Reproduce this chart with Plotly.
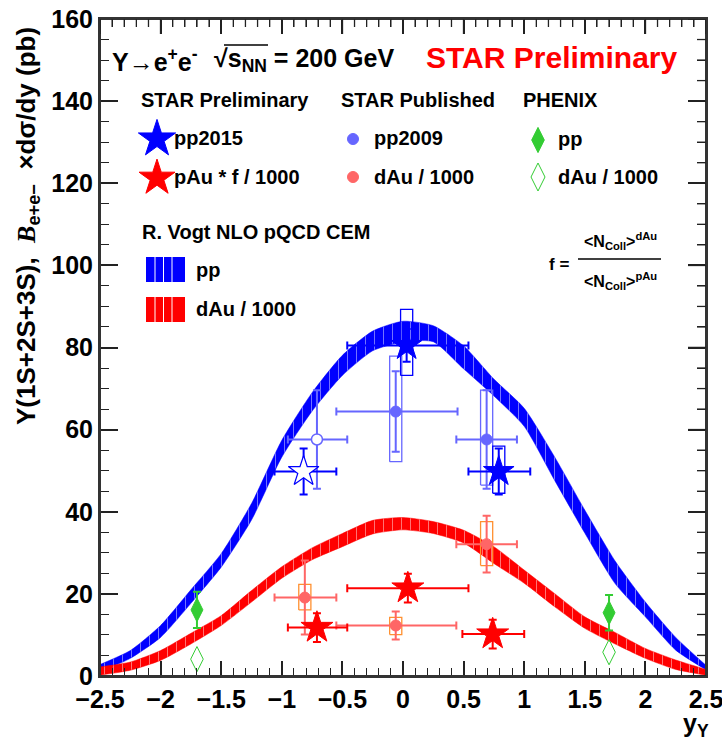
import plotly.graph_objects as go

# ---------------- data ----------------
band_x = [-2.5, -2.25, -2.0, -1.75, -1.5, -1.25, -1.0, -0.75, -0.5, -0.25, 0.0,
          0.25, 0.5, 0.75, 1.0, 1.25, 1.5, 1.75, 2.0, 2.25, 2.5]
pp_band_lo = [1.0, 4.3, 9.4, 17.7, 26.5, 38.0, 53.3, 64.5, 73.2, 79.2, 81.4,
              81.4, 74.8, 68.2, 60.8, 47.7, 34.8, 22.5, 14.4, 6.3, 1.5]
pp_band_hi = [2.8, 6.2, 12.3, 21.0, 29.8, 42.0, 57.4, 69.0, 78.1, 84.0, 86.4,
              85.3, 80.4, 72.3, 65.2, 53.4, 40.4, 28.0, 18.0, 9.4, 2.6]
dau_band_lo = [0.2, 1.4, 3.8, 7.8, 12.3, 18.0, 23.8, 28.3, 31.5, 34.6, 35.6,
               34.7, 32.4, 27.4, 22.6, 16.9, 11.6, 7.8, 4.3, 1.6, 0.2]
dau_band_hi = [2.2, 3.4, 6.2, 10.4, 14.7, 20.8, 26.6, 31.2, 34.7, 37.9, 38.6,
               37.6, 35.5, 31.5, 25.8, 20.1, 14.4, 10.6, 6.7, 3.9, 1.6]

# STAR Preliminary pp2015 (filled stars) and reflected point (open star)
pp15_x = [0.03, 0.79]
pp15_y = [80.5, 49.8]
pp15_xlo = [-0.46, 0.54]
pp15_xhi = [0.54, 1.05]
pp15_stat = [4.0, 5.6]
pp15_sys_lo = [73.2, 44.5]
pp15_sys_hi = [89.3, 56.0]
pp15r_x = [-0.82]
pp15r_y = [49.8]
pp15r_xlo = [-1.06]
pp15r_xhi = [-0.55]
pp15r_stat = [5.6]

# STAR Published pp2009
pp09_x = [-0.06, 0.69]
pp09_y = [64.4, 57.6]
pp09_xlo = [-0.55, 0.44]
pp09_xhi = [0.45, 0.94]
pp09_stat = [9.8, 12.0]
pp09_sys_lo = [52.2, 46.5]
pp09_sys_hi = [77.9, 69.6]
pp09r_x = [-0.71]
pp09r_y = [57.6]
pp09r_xlo = [-0.95]
pp09r_xhi = [-0.46]
pp09r_stat = [12.0]

# STAR Preliminary pAu * f / 1000
pau_x = [-0.71, 0.04, 0.74]
pau_y = [11.8, 21.4, 10.2]
pau_xlo = [-0.95, -0.46, 0.49]
pau_xhi = [-0.46, 0.54, 1.00]
pau_stat = [3.5, 3.5, 3.5]

# STAR Published dAu / 1000
dau_x = [-0.81, -0.06, 0.69]
dau_y = [19.1, 12.3, 32.1]
dau_xlo = [-1.06, -0.55, 0.44]
dau_xhi = [-0.55, 0.44, 0.94]
dau_stat = [9.0, 3.4, 6.9]
dau_sys_lo = [16.1, 10.1, 26.9]
dau_sys_hi = [22.3, 14.3, 37.6]

# PHENIX
phx_x = [-1.7, 1.7]
phx_pp_y = [16.1, 15.4]
phx_pp_err = [4.4, 4.3]
phx_dau_y = [4.1, 5.8]

x_range = [-2.5, 2.5]
y_range = [0, 160]
x_ticks = [-2.5, -2, -1.5, -1, -0.5, 0, 0.5, 1, 1.5, 2, 2.5]
y_ticks = [0, 20, 40, 60, 80, 100, 120, 140, 160]
x_minor_step = 0.1
y_minor_step = 5

# ---------------- styles ----------------
BLUE = "#0000ff"
LBLUE = "#6666ff"
RED = "#ff0000"
SALMON = "#ff6666"
ORANGE = "#ff9030"
GREEN = "#33cc33"
FONT = "Liberation Sans"
FRAME = "#333333"

W, H = 722, 739
ML, MR, MT, MB = 100, 16, 19, 63
PW, PH = W - ML - MR, H - MT - MB
PLOT_L, PLOT_B = ML, H - MB   # page pixel of plot-left / plot-bottom


def P(px, py):
    """page pixel -> paper coordinate"""
    return (px - PLOT_L) / PW, (PLOT_B - py) / PH


def box_path(xs, lo, hi, hw=0.05):
    bx, by = [], []
    for x, a, b in zip(xs, lo, hi):
        bx += [x - hw, x + hw, x + hw, x - hw, x - hw, None]
        by += [a, a, b, b, a, None]
    return bx, by


def errs(x, lo, hi):
    return [h - c for c, h in zip(x, hi)], [c - l for c, l in zip(x, lo)]


fig = go.Figure()

# theory bands
for lo, hi, col in [(pp_band_lo, pp_band_hi, BLUE), (dau_band_lo, dau_band_hi, RED)]:
    fig.add_trace(go.Scatter(x=band_x, y=lo, mode="lines",
                             line=dict(width=0.5, color=col, shape="spline", smoothing=0.6),
                             showlegend=False, hoverinfo="skip"))
    fig.add_trace(go.Scatter(x=band_x, y=hi, mode="lines",
                             line=dict(width=0.5, color=col, shape="spline", smoothing=0.6),
                             fill="tonexty", fillcolor=col,
                             fillpattern=dict(shape="|", fgcolor="white", bgcolor=col,
                                              size=9, solidity=0.1),
                             showlegend=False, hoverinfo="skip"))

# systematic boxes
for xs, lo, hi, col in [(pp09_x, pp09_sys_lo, pp09_sys_hi, LBLUE),
                        (pp15_x, pp15_sys_lo, pp15_sys_hi, BLUE),
                        (dau_x, dau_sys_lo, dau_sys_hi, ORANGE)]:
    bx, by = box_path(xs, lo, hi)
    fig.add_trace(go.Scatter(x=bx, y=by, mode="lines", line=dict(color=col, width=1.3),
                             showlegend=False, hoverinfo="skip"))


def points(x, y, xlo, xhi, stat, symbol, size, color, fill, lw=1.0, ecol=None, ew=2):
    ep, em = errs(x, xlo, xhi)
    ecol = ecol or color
    fig.add_trace(go.Scatter(
        x=x, y=y, mode="markers",
        marker=dict(symbol=symbol, size=size, color=fill, line=dict(color=color, width=lw)),
        error_x=dict(type="data", symmetric=False, array=ep, arrayminus=em,
                     color=ecol, thickness=ew, width=4),
        error_y=dict(type="data", array=stat, color=ecol, thickness=ew, width=4),
        showlegend=False, hoverinfo="skip"))


points(pp09_x, pp09_y, pp09_xlo, pp09_xhi, pp09_stat, "circle", 11, LBLUE, LBLUE)
points(pp09r_x, pp09r_y, pp09r_xlo, pp09r_xhi, pp09r_stat, "circle", 11, LBLUE, "white", lw=1.5)
points(dau_x, dau_y, dau_xlo, dau_xhi, dau_stat, "circle", 11, SALMON, SALMON)
points(pp15_x, pp15_y, pp15_xlo, pp15_xhi, pp15_stat, "star", 23, BLUE, BLUE)
points(pp15r_x, pp15r_y, pp15r_xlo, pp15r_xhi, pp15r_stat, "star", 23, BLUE, "white", lw=1.2)
points(pau_x, pau_y, pau_xlo, pau_xhi, pau_stat, "star", 24, RED, RED)

fig.add_trace(go.Scatter(x=phx_x, y=phx_pp_y, mode="markers",
                         marker=dict(symbol="diamond-tall", size=17, color=GREEN,
                                     line=dict(color=GREEN, width=1)),
                         error_y=dict(type="data", array=phx_pp_err, color=GREEN,
                                      thickness=2, width=4),
                         showlegend=False, hoverinfo="skip"))
fig.add_trace(go.Scatter(x=phx_x, y=phx_dau_y, mode="markers",
                         marker=dict(symbol="diamond-tall-open", size=18, color=GREEN,
                                     line=dict(color=GREEN, width=1)),
                         showlegend=False, hoverinfo="skip"))

# ---------------- legend glyphs (overlay axes in [0,1]) ----------------
glyphs = [
    (157, 139, "star", 28, BLUE, BLUE),
    (157, 178, "star", 27, RED, RED),
    (353, 139, "circle", 11, LBLUE, LBLUE),
    (353, 177, "circle", 11, SALMON, SALMON),
    (538, 140, "diamond-tall", 18, GREEN, GREEN),
    (538, 177, "diamond-tall-open", 20, GREEN, GREEN),
]
for px, py, sym, sz, lc, fc in glyphs:
    gx, gy = P(px, py)
    fig.add_trace(go.Scatter(x=[gx], y=[gy], xaxis="x2", yaxis="y2", mode="markers",
                             marker=dict(symbol=sym, size=sz, color=fc,
                                         line=dict(color=lc, width=1)),
                             showlegend=False, hoverinfo="skip"))

# ---------------- annotations ----------------
ann = []


def txt(text, px, py, size=20, color="black", xa="left", ya="middle", angle=0, bold=True):
    x, y = P(px, py)
    ann.append(dict(text=("<b>%s</b>" % text) if bold else text, x=x, y=y, xref="paper",
                    yref="paper", xanchor=xa, yanchor=ya, showarrow=False, textangle=angle,
                    font=dict(family=FONT, size=size, color=color)))


txt("Υ→e<sup>+</sup>e<sup>-</sup>", 110, 60, size=25)
txt("√s<sub>NN</sub> = 200 GeV", 212, 60, size=25)
txt("STAR Preliminary", 424, 57, size=30, color=RED)

txt("STAR Preliminary", 139, 100)
txt("STAR Published", 339, 100)
txt("PHENIX", 521, 100)
txt("pp2015", 172, 138)
txt("pAu * f / 1000", 172, 177)
txt("pp2009", 372, 138)
txt("dAu / 1000", 372, 177)
txt("pp", 556, 139)
txt("dAu / 1000", 556, 177)

txt("R. Vogt NLO pQCD CEM", 140, 232)
txt("pp", 194, 270)
txt("dAu / 1000", 194, 309)

txt("f =", 547, 264, size=17)
txt("&lt;N<sub>Coll</sub>&gt;<sup>dAu</sup>", 620, 241, size=16, xa="center")
txt("&lt;N<sub>Coll</sub>&gt;<sup>pAu</sup>", 620, 281, size=16, xa="center")

txt("Υ(1S+2S+3S),  <span style='font-family:Liberation Serif'><i>B</i></span>"
    "<sub>e+e−</sub>  ×dσ/dy (pb)", 27, 226, size=26, xa="center", angle=-90)
txt("y<sub>Υ</sub>", 681, 725, size=25)

# ---------------- shapes ----------------
shapes = []


def rect_px(x0, y0, x1, y1, color):
    a0, b0 = P(x0, y1)
    a1, b1 = P(x1, y0)
    shapes.append(dict(type="rect", xref="paper", yref="paper", x0=a0, y0=b0, x1=a1, y1=b1,
                       fillcolor=color, line=dict(width=0)))


def line_px(x0, y0, x1, y1, color="black", width=1.5):
    a0, b0 = P(x0, y0)
    a1, b1 = P(x1, y1)
    shapes.append(dict(type="line", xref="paper", yref="paper", x0=a0, y0=b0, x1=a1, y1=b1,
                       line=dict(color=color, width=width)))


for top, col in [(257, BLUE), (297, RED)]:
    rect_px(146, top, 185, top + 25, col)
    for sx in (155, 163.5, 172):
        line_px(sx, top, sx, top + 25, "white", 1)

line_px(578, 259, 661, 259, "black", 1.5)      # fraction bar
line_px(224, 45, 268, 45, "black", 1.5)        # square-root overline

# frame box with ticks on the top and right edges (ROOT style)
shapes.append(dict(type="rect", xref="paper", yref="paper", x0=0, y0=0, x1=1, y1=1,
                   line=dict(color=FRAME, width=2), layer="above"))
n_xm = int(round((x_range[1] - x_range[0]) / x_minor_step))
for i in range(n_xm + 1):
    t = x_range[0] + i * x_minor_step
    major = any(abs(t - m) < 1e-6 for m in x_ticks)
    ln = (15 if major else 8) / PH
    shapes.append(dict(type="line", xref="x", yref="paper", x0=t, x1=t, y0=1, y1=1 - ln,
                       line=dict(color="#222", width=1.5 if major else 1.3), layer="above"))
n_ym = int(round((y_range[1] - y_range[0]) / y_minor_step))
for i in range(n_ym + 1):
    t = y_range[0] + i * y_minor_step
    major = t in y_ticks
    ln = (18 if major else 9) / PW
    shapes.append(dict(type="line", xref="paper", yref="y", x0=1, x1=1 - ln, y0=t, y1=t,
                       line=dict(color="#222", width=1.5 if major else 1.3), layer="above"))

TF = dict(family=FONT, size=25, color="black", weight="bold")
AX = dict(ticks="inside", tickwidth=1.5, tickcolor="#222", showline=True, linewidth=2,
          linecolor=FRAME, mirror="allticks", showgrid=False, zeroline=False,
          automargin=False, ticklabeloverflow="allow", tickfont=TF)
XMIN = dict(dtick=x_minor_step, tick0=0, ticks="inside", ticklen=8, tickwidth=1.3,
            tickcolor="#222", showgrid=False)
YMIN = dict(dtick=y_minor_step, tick0=0, ticks="inside", ticklen=9, tickwidth=1.3,
            tickcolor="#222", showgrid=False)

fig.update_layout(
    width=W, height=H,
    margin=dict(l=ML, r=MR, t=MT, b=MB, autoexpand=False),
    paper_bgcolor="white", plot_bgcolor="white",
    showlegend=False,
    annotations=ann, shapes=shapes,
    xaxis=dict(range=x_range, tickvals=x_ticks, ticklen=15, minor=XMIN, **AX),
    yaxis=dict(range=y_range, tickvals=y_ticks, ticklen=18, minor=YMIN, **AX),
    xaxis2=dict(overlaying="x", range=[0, 1], visible=False, anchor="y2", automargin=False),
    yaxis2=dict(overlaying="y", range=[0, 1], visible=False, anchor="x2", automargin=False),
)

fig.write_html("out.html",
               config={"displayModeBar": False},
               post_script="document.body.style.margin='0';"
                           "document.body.style.overflow='hidden';")
